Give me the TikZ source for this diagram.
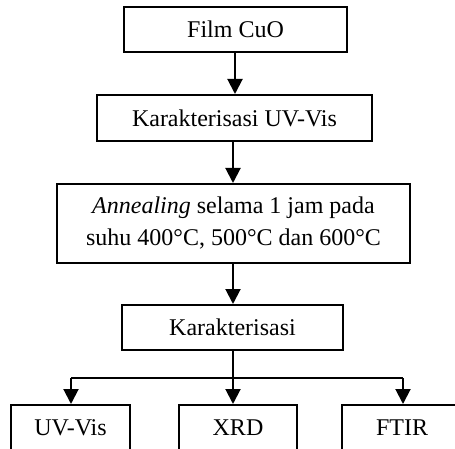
\documentclass[tikz,border=0pt]{standalone}
\usepackage{fontspec}
\setmainfont{Liberation Serif}
\usetikzlibrary{positioning}
\usetikzlibrary{arrows.meta}
\tikzset{box/.style = {draw, line width=2pt, inner sep=0pt, align=center,
                       font=\fontsize{24}{32}\selectfont}}
\tikzset{flow/.style = {line width=2pt,
                        -{Triangle[width=15pt,length=15pt]}}}
\tikzset{every picture/.style={x=1pt, y=-1pt}}

\begin{document}
\begin{tikzpicture}
      \clip (0,0) rectangle (455,449);
      \useasboundingbox (0,0) rectangle (455,449);
      \node[box, minimum width=223pt, minimum height=45pt] (film) at (235.5,29.5) {Film CuO};
      \node[box, minimum width=275pt, minimum height=46pt] (uvvis) at (234.5,118) {Karakterisasi UV-Vis};
      \node[box, minimum width=353pt, minimum height=79pt] (anneal) at (233.5,223.5)
        {\textit{Annealing} selama 1 jam pada\\suhu 400°C, 500°C dan 600°C};
      \node[box, minimum width=221pt, minimum height=45pt] (karak) at (232.5,327.5) {Karakterisasi};
      \node[box, minimum width=119pt, minimum height=46pt] (uv) at (70.5,428) {UV-Vis};
      \node[box, minimum width=118pt, minimum height=46pt] (xrd) at (238,428) {XRD};
      \node[box, minimum width=120pt, minimum height=46pt] (ftir) at (402,428) {FTIR};
      \coordinate (split) at (233,378);
      \coordinate (left) at (71,378);
      \coordinate (right) at (403,378);
      % connectors
      \draw[flow] (film.south -| 235,0) -- (uvvis.north -| 235,0);
      \draw[flow] (uvvis.south -| 233,0) -- (anneal.north -| 233,0);
      \draw[flow] (anneal.south -| 233,0) -- (karak.north -| 233,0);
      \draw[line width=2pt] (karak.south -| split) -- (split);
      \draw[line width=2pt] (left) -- (right);
      \draw[flow] (left) -- (left |- uv.north);
      \draw[flow] (split) -- (split |- xrd.north);
      \draw[flow] (right) -- (right |- ftir.north);
    \end{tikzpicture}
\end{document}
